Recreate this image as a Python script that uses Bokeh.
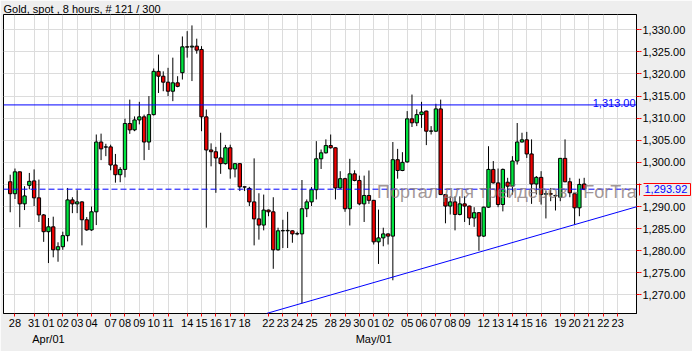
from bokeh.plotting import figure
from bokeh.models import (Range1d, FixedTicker, NumeralTickFormatter, LinearAxis,
                          Span, Label, Slope, ColumnDataSource)
from bokeh.embed import file_html
from bokeh.resources import INLINE

# ---- data (8-hour candles) ----
opens = [1295.6, 1292.9, 1297.85, 1290.6, 1294.8, 1295.8, 1291.96, 1288.1, 1284.3, 1285.4,
         1280.2, 1280.9, 1283.4, 1291.5, 1290.6, 1291.05, 1287.0, 1284.7, 1288.8, 1304.6,
         1303.5, 1303.5, 1299.4, 1297.2, 1298.4, 1308.8, 1307.35, 1309.6, 1310.3, 1304.6,
         1310.8, 1320.6, 1319.5, 1318.15, 1316.1, 1318.0, 1320.3, 1326.15, 1326.1, 1326.3,
         1325.55, 1310.3, 1302.8, 1302.4, 1301.0, 1299.7, 1303.3, 1298.5, 1299.7, 1294.45,
         1294.1, 1291.05, 1287.2, 1285.8, 1289.2, 1288.8, 1280.2, 1284.5, 1284.5, 1284.5,
         1283.8, 1283.8, 1289.5, 1291.05, 1293.8, 1300.8, 1302.15, 1303.8, 1303.3, 1294.2,
         1296.3, 1289.5, 1297.4, 1295.9, 1290.6, 1292.5, 1291.4, 1282.0, 1282.9, 1283.8,
         1283.3, 1300.6, 1298.15, 1300.1, 1309.85, 1308.95, 1310.8, 1311.6, 1307.05, 1307.05,
         1312.1, 1292.7, 1290.1, 1291.05, 1288.2, 1290.6, 1290.1, 1287.4, 1288.6, 1283.3,
         1289.85, 1298.4, 1295.35, 1290.45, 1295.5, 1294.6, 1300.3, 1304.6, 1305.1, 1301.9,
         1295.1, 1296.6, 1292.8, 1292.9, 1292.5, 1292.1, 1300.9, 1295.6, 1292.9, 1289.7,
         1295.1]
highs = [1297.2, 1298.6, 1297.9, 1294.6, 1297.6, 1298.4, 1296.1, 1288.3, 1287.4, 1287.7,
         1281.9, 1284.3, 1294.2, 1292.1, 1293.7, 1291.2, 1287.6, 1290.0, 1306.3, 1306.5,
         1304.2, 1304.0, 1301.9, 1298.9, 1309.9, 1314.2, 1310.4, 1313.7, 1310.8, 1315.0,
         1321.25, 1324.4, 1320.6, 1321.4, 1323.7, 1319.5, 1328.5, 1329.7, 1331.0, 1328.0,
         1326.3, 1311.96, 1304.3, 1303.5, 1306.7, 1303.95, 1304.0, 1299.8, 1299.8, 1294.5,
         1294.45, 1300.9, 1293.0, 1292.7, 1289.3, 1292.1, 1285.2, 1287.0, 1288.8, 1284.6,
         1284.3, 1296.0, 1291.6, 1294.4, 1304.8, 1302.9, 1305.2, 1306.3, 1303.4, 1298.0,
         1296.5, 1300.8, 1298.2, 1297.0, 1297.0, 1298.15, 1291.5, 1289.3, 1285.2, 1283.9,
         1304.6, 1303.05, 1302.3, 1311.6, 1315.35, 1312.0, 1313.7, 1311.7, 1308.2, 1313.25,
         1314.2, 1292.8, 1292.3, 1292.3, 1292.3, 1292.3, 1290.2, 1289.85, 1288.7, 1290.0,
         1303.65, 1300.3, 1298.6, 1298.6, 1296.5, 1301.4, 1308.9, 1306.7, 1306.9, 1305.2,
         1296.9, 1298.0, 1293.5, 1294.2, 1292.7, 1301.0, 1305.2, 1296.5, 1293.0, 1296.3,
         1296.5]
lows = [1288.7, 1291.7, 1285.3, 1289.2, 1293.9, 1290.1, 1286.5, 1282.0, 1277.2, 1278.5,
        1277.5, 1280.2, 1282.1, 1288.5, 1288.5, 1281.2, 1284.5, 1284.5, 1285.8, 1300.5,
        1301.4, 1298.2, 1295.4, 1295.5, 1296.6, 1306.45, 1307.05, 1308.6, 1300.5, 1302.8,
        1310.6, 1315.7, 1316.1, 1315.0, 1313.85, 1317.0, 1318.75, 1323.7, 1318.4, 1324.6,
        1307.05, 1285.2, 1299.1, 1293.1, 1297.4, 1299.5, 1296.3, 1296.6, 1293.5, 1293.5,
        1290.1, 1281.2, 1282.5, 1284.6, 1287.8, 1275.9, 1280.0, 1280.6, 1280.6, 1281.8,
        1283.5, 1268.1, 1287.6, 1290.1, 1291.6, 1298.5, 1302.0, 1303.1, 1291.6, 1294.0,
        1288.8, 1285.7, 1295.7, 1290.3, 1286.5, 1290.6, 1281.4, 1277.0, 1281.0, 1281.4,
        1273.3, 1296.3, 1298.0, 1299.9, 1308.0, 1308.2, 1307.8, 1303.9, 1306.3, 1306.9,
        1292.6, 1286.2, 1288.2, 1284.6, 1288.0, 1286.5, 1285.8, 1285.4, 1280.0, 1283.1,
        1289.7, 1295.2, 1289.85, 1288.9, 1292.1, 1292.7, 1299.5, 1304.5, 1301.0, 1290.6,
        1292.7, 1290.45, 1287.3, 1291.2, 1289.1, 1291.2, 1295.5, 1292.1, 1285.9, 1287.8,
        1293.7]
closes = [1292.9, 1297.85, 1290.6, 1292.4, 1295.7, 1291.96, 1288.1, 1284.3, 1285.4, 1280.2,
          1280.9, 1283.4, 1291.5, 1290.6, 1291.05, 1287.0, 1284.7, 1288.8, 1304.6, 1303.05,
          1303.45, 1299.4, 1297.2, 1298.4, 1308.8, 1307.35, 1309.6, 1310.3, 1304.6, 1310.8,
          1320.6, 1319.5, 1318.15, 1316.1, 1318.0, 1317.2, 1326.15, 1326.1, 1326.3, 1325.4,
          1310.3, 1302.8, 1302.4, 1301.0, 1299.7, 1303.3, 1298.5, 1299.7, 1294.45, 1294.4,
          1291.05, 1287.2, 1285.8, 1289.2, 1288.8, 1280.2, 1284.5, 1284.55, 1284.6, 1283.8,
          1283.85, 1289.5, 1291.05, 1293.8, 1300.8, 1302.15, 1303.8, 1303.3, 1294.2, 1296.3,
          1289.5, 1297.4, 1295.9, 1290.6, 1292.5, 1291.4, 1282.0, 1282.9, 1283.8, 1283.3,
          1300.6, 1298.15, 1300.0, 1309.85, 1308.95, 1310.8, 1311.4, 1307.05, 1307.1, 1312.1,
          1292.7, 1290.1, 1291.05, 1288.2, 1290.6, 1290.1, 1287.4, 1288.6, 1283.3, 1289.85,
          1298.4, 1295.35, 1290.45, 1298.4, 1294.6, 1300.3, 1304.6, 1305.1, 1301.9, 1295.1,
          1296.6, 1292.7, 1292.9, 1292.8, 1292.4, 1300.9, 1295.6, 1293.1, 1289.7, 1295.0,
          1293.92]

day_tick_idx = [1, 5, 8, 11, 14, 17, 21, 24, 27, 30, 33, 37, 40, 43, 46, 49, 54, 57, 60, 63,
                67, 70, 73, 76, 79, 83, 86, 89, 92, 95, 99, 102, 105, 108, 111, 115, 118, 121, 124, 127]
day_tick_labels = ["28", "31", "01", "02", "03", "04", "07", "08", "09", "10", "11",
                   "14", "15", "16", "17", "18", "22", "23", "24", "25",
                   "28", "29", "30", "01", "02", "05", "06", "07", "08", "09",
                   "12", "13", "14", "15", "16", "19", "20", "21", "22", "23"]
month_tick_idx = [8, 76]
month_tick_labels = ["Apr/01", "May/01"]
price_ticks = [1270, 1275, 1280, 1285, 1290, 1295, 1300, 1305, 1310, 1315, 1320, 1325, 1330]
level_price = 1313.00
last_price = 1293.92
trend_anchor_idx = [61, 118]
title_text = "Gold, spot , 8 hours, # 121 / 300"
watermark = "Портал для трейдеров - ForTrader.ru"

FONT = "Liberation Sans"
GREEN = "#00E53F"
RED = "#EE0000"
BG = "#EEEEEE"

n = len(opens)
xs = list(range(n))
src = ColumnDataSource(dict(
    x=xs,
    top=[max(o, c) for o, c in zip(opens, closes)],
    bottom=[min(o, c) for o, c in zip(opens, closes)],
    high=highs, low=lows,
    color=[GREEN if c >= o else RED for o, c in zip(opens, closes)],
))

X0, X1 = -1.40, 130.94
p = figure(width=692, height=351, output_backend="svg", toolbar_location=None,
           x_range=Range1d(X0, X1), y_range=Range1d(1265.78, 1333.47),
           y_axis_location="right",
           min_border_left=3, min_border_right=56, min_border_top=14, min_border_bottom=38,
           background_fill_color="white", border_fill_color=BG)
p.outline_line_color = "black"
p.outline_line_width = 1

p.title.text = title_text
p.title.text_font = FONT
p.title.text_font_size = "11px"
p.title.text_font_style = "normal"
p.title.text_color = "black"
p.title.align = "left"
p.title.offset = 0
p.title.standoff = 0

# x axis (days)
xt = FixedTicker(ticks=day_tick_idx)
xa = p.xaxis[0]
xa.ticker = xt
xa.major_label_overrides = {i: lab for i, lab in zip(day_tick_idx, day_tick_labels)}
xa.major_tick_out = 3
xa.major_tick_in = 0
xa.major_tick_line_color = "red"
xa.minor_tick_line_color = None
xa.axis_line_color = "black"
xa.major_label_standoff = 2
xa.major_label_text_font = FONT
xa.major_label_text_font_size = "11px"
xa.major_label_text_color = "black"

# month axis
ma = LinearAxis(ticker=FixedTicker(ticks=month_tick_idx),
                major_label_overrides={i: lab for i, lab in zip(month_tick_idx, month_tick_labels)},
                major_tick_line_color=None, minor_tick_line_color=None, axis_line_color=None,
                major_label_standoff=-3, major_label_text_font=FONT,
                major_label_text_font_size="11px", major_label_text_color="black")
p.add_layout(ma, "below")

# ---- price scale on the right ----
# the tick label hidden behind the last-price marker
hidden = {t: "" for t in price_ticks if abs(t - last_price) < 2.5}
box_half = 1.32
box_lo, box_hi = last_price - box_half, last_price + box_half
yt = FixedTicker(ticks=price_ticks)

# inner part of the red tick marks (no labels)
ya = p.yaxis[0]
ya.ticker = yt
ya.major_label_overrides = {t: "" for t in price_ticks}
ya.major_tick_out = 3
ya.major_tick_in = 0
ya.major_tick_line_color = "red"
ya.minor_tick_line_color = None
ya.axis_line_color = "black"
ya.major_label_standoff = 0
ya.major_label_text_font_size = "1px"

# left edge of the last-price box
box_left = LinearAxis(bounds=(box_lo, box_hi), ticker=FixedTicker(ticks=[]),
                      major_tick_line_color=None, minor_tick_line_color=None,
                      axis_line_color="red", major_tick_out=0, major_tick_in=0,
                      major_label_standoff=0, major_label_text_font_size="1px")
p.add_layout(box_left, "right")

# outer part of the tick marks + price labels
ylab = LinearAxis(ticker=yt, formatter=NumeralTickFormatter(format="0,0.00"),
                  major_label_overrides=hidden,
                  major_tick_out=2, major_tick_in=0, major_tick_line_color="red",
                  minor_tick_line_color=None, axis_line_color=None,
                  major_label_standoff=1, major_label_text_font=FONT,
                  major_label_text_font_size="11px", major_label_text_color="black")
p.add_layout(ylab, "right")

# blue last-price value inside the box
box_text = LinearAxis(ticker=FixedTicker(ticks=[last_price]),
                      formatter=NumeralTickFormatter(format="0,0.00"),
                      major_tick_line_color=None, minor_tick_line_color=None,
                      axis_line_color=None, major_tick_out=0, major_tick_in=0,
                      major_label_standoff=-44, major_label_text_color="blue",
                      major_label_text_font=FONT, major_label_text_font_size="11px")
p.add_layout(box_text, "right")

# right, top and bottom edges of the box
box_rest = LinearAxis(bounds=(box_lo, box_hi), ticker=FixedTicker(ticks=[box_lo, box_hi]),
                      major_label_overrides={box_lo: "", box_hi: ""},
                      major_tick_out=0, major_tick_in=47, major_tick_line_color="red",
                      minor_tick_line_color=None, axis_line_color="red",
                      major_label_standoff=0, major_label_text_font_size="1px")
p.add_layout(box_rest, "right")

p.xgrid.ticker = xt
p.ygrid.ticker = yt
p.xgrid.grid_line_color = "#DCDCDC"
p.ygrid.grid_line_color = "#DCDCDC"

# candles
p.segment(x0="x", y0="high", x1="x", y1="low", source=src, line_color="black", line_width=1)
p.vbar(x="x", width=0.7, top="top", bottom="bottom", source=src,
       fill_color="color", line_color="black", line_width=1)

# horizontal level + label
p.add_layout(Span(location=level_price, dimension="width", line_color="blue", line_width=1))
p.add_layout(Label(x=X1 - 0.2, y=level_price, text=f"{level_price:,.2f}", text_align="right",
                   text_baseline="alphabetic", y_offset=2, text_color="blue",
                   text_font=FONT, text_font_size="11px"))

# last price dashed line
p.add_layout(Span(location=last_price, dimension="width", line_color="blue", line_width=1,
                  line_dash="6 3"))

# trend line through two lows
i0, i1 = trend_anchor_idx
g = (lows[i1] - lows[i0]) / (i1 - i0)
b = lows[i0] - g * i0
p.add_layout(Slope(gradient=g, y_intercept=b, line_color="blue", line_width=1))

# watermark
p.add_layout(Label(x=76.7, y=1293.2, text=watermark, text_font=FONT, text_font_size="18px",
                   text_color="#8A7C7C", text_alpha=0.8, text_baseline="alphabetic"))

open("out.html", "w").write(file_html(p, INLINE))
